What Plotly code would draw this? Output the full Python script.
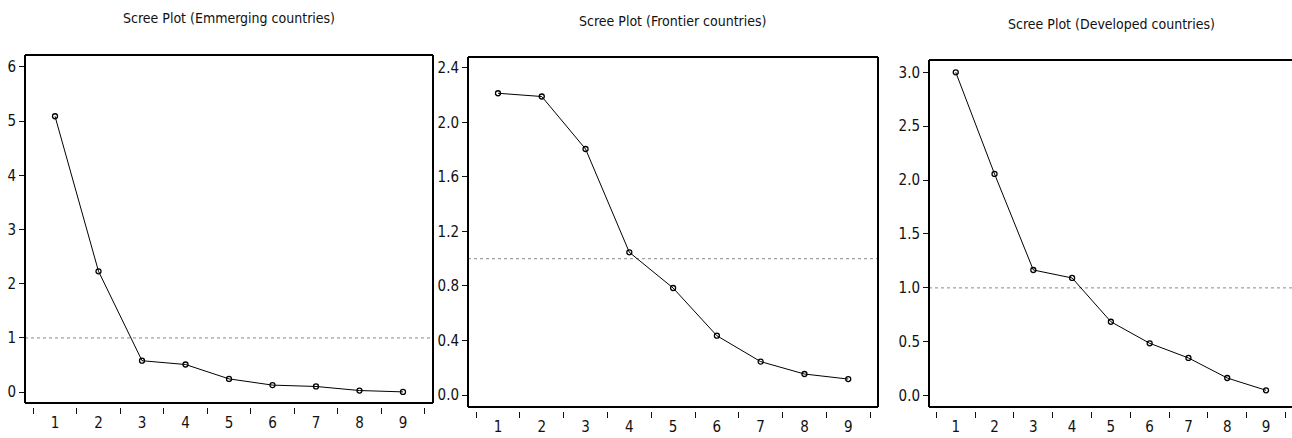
import plotly.graph_objects as go

components = ["1", "2", "3", "4", "5", "6", "7", "8", "9"]
emerging = [5.09, 2.23, 0.58, 0.51, 0.245, 0.13, 0.105, 0.03, 0.005]
frontier = [2.214, 2.19, 1.805, 1.047, 0.785, 0.435, 0.245, 0.154, 0.117]
developed = [3.0, 2.057, 1.166, 1.092, 0.686, 0.486, 0.35, 0.164, 0.05]
titles = ["Scree Plot (Emmerging countries)", "Scree Plot (Frontier countries)",
          "Scree Plot (Developed countries)"]
ytick_sets = [[0, 1, 2, 3, 4, 5, 6],
              [0.0, 0.4, 0.8, 1.2, 1.6, 2.0, 2.4],
              [0.0, 0.5, 1.0, 1.5, 2.0, 2.5, 3.0]]
ytick_fmt = ["d", ".1f", ".1f"]
cutoff = 1.0

W, H = 1292, 438
FONT = "Liberation Sans Narrow, Arial Narrow, DejaVu Sans Condensed, sans-serif"

# panel pixel boxes: left, right, top, bottom
boxes = [(25, 433, 55, 403), (468, 878, 57, 407), (929, 1292, 60, 407)]
yranges = [[-0.2, 6.22], [-0.088, 2.48], [-0.105, 3.114]]
xranges = [[-0.69, 8.69], [-0.685, 8.68], [-0.69, 8.67]]
title_pos = [(229, 18), (673, 21), (1111, 24)]
series = [emerging, frontier, developed]

fig = go.Figure()
layout = dict(width=W, height=H, margin=dict(l=0, r=0, t=0, b=0, autoexpand=False),
              plot_bgcolor="white", paper_bgcolor="white", showlegend=False,
              font=dict(family=FONT, size=13, color="#111"))
shapes = []
annotations = []
for i in range(3):
    n = "" if i == 0 else str(i + 1)
    l, r, t, b = boxes[i]
    fig.add_trace(go.Scatter(
        x=components, y=series[i], mode="lines+markers",
        line=dict(color="black", width=1),
        marker=dict(symbol="circle-open", size=5, color="black", line=dict(width=1.3)),
        xaxis="x" + n, yaxis="y" + n))
    layout["xaxis" + n] = dict(
        type="category", domain=[l / W, r / W], range=xranges[i],
        anchor="free", position=(H - b - 3.5) / H, automargin=False,
        tickson="boundaries", ticks="outside", ticklen=6, tickwidth=1.2,
        tickcolor="#111", showline=False, showgrid=False, zeroline=False,
        ticklabelstandoff=5,
        tickfont=dict(size=15, family=FONT, color="#111"), fixedrange=True)
    layout["yaxis" + n] = dict(
        domain=[(H - b) / H, (H - t) / H], range=yranges[i], anchor="x" + n,
        tickvals=ytick_sets[i], tickformat=ytick_fmt[i], automargin=False,
        ticks="outside", ticklen=5, tickwidth=1, tickcolor="#111",
        showline=False, showgrid=False, zeroline=False,
        tickfont=dict(size=15, family=FONT, color="#111"), fixedrange=True)
    xd, yd = "x" + n + " domain", "y" + n + " domain"
    # cutoff line
    shapes.append(dict(type="line", xref=xd, yref="y" + n, x0=0, x1=1, y0=cutoff, y1=cutoff,
                       line=dict(color="#888", width=1, dash="dot"), layer="below"))
    # frame
    frame = [(0, 0, 0, 1), (0, 1, 1, 1), (0, 0, 1, 0)]
    if i < 2:
        frame.append((1, 0, 1, 1))
    for (x0, y0, x1, y1) in frame:
        shapes.append(dict(type="line", xref=xd, yref=yd, x0=x0, y0=y0, x1=x1, y1=y1,
                           line=dict(color="black", width=2)))
    tx, ty = title_pos[i]
    annotations.append(dict(text=titles[i], xref="paper", yref="paper",
                            x=tx / W, y=1 - ty / H, xanchor="center", yanchor="middle",
                            showarrow=False, font=dict(size=14, family=FONT, color="#111")))
layout["shapes"] = shapes
layout["annotations"] = annotations
fig.update_layout(**layout)
fig.write_html("out.html", config={"displayModeBar": False},
               post_script="document.body.style.margin='0';document.body.style.overflow='hidden';")
